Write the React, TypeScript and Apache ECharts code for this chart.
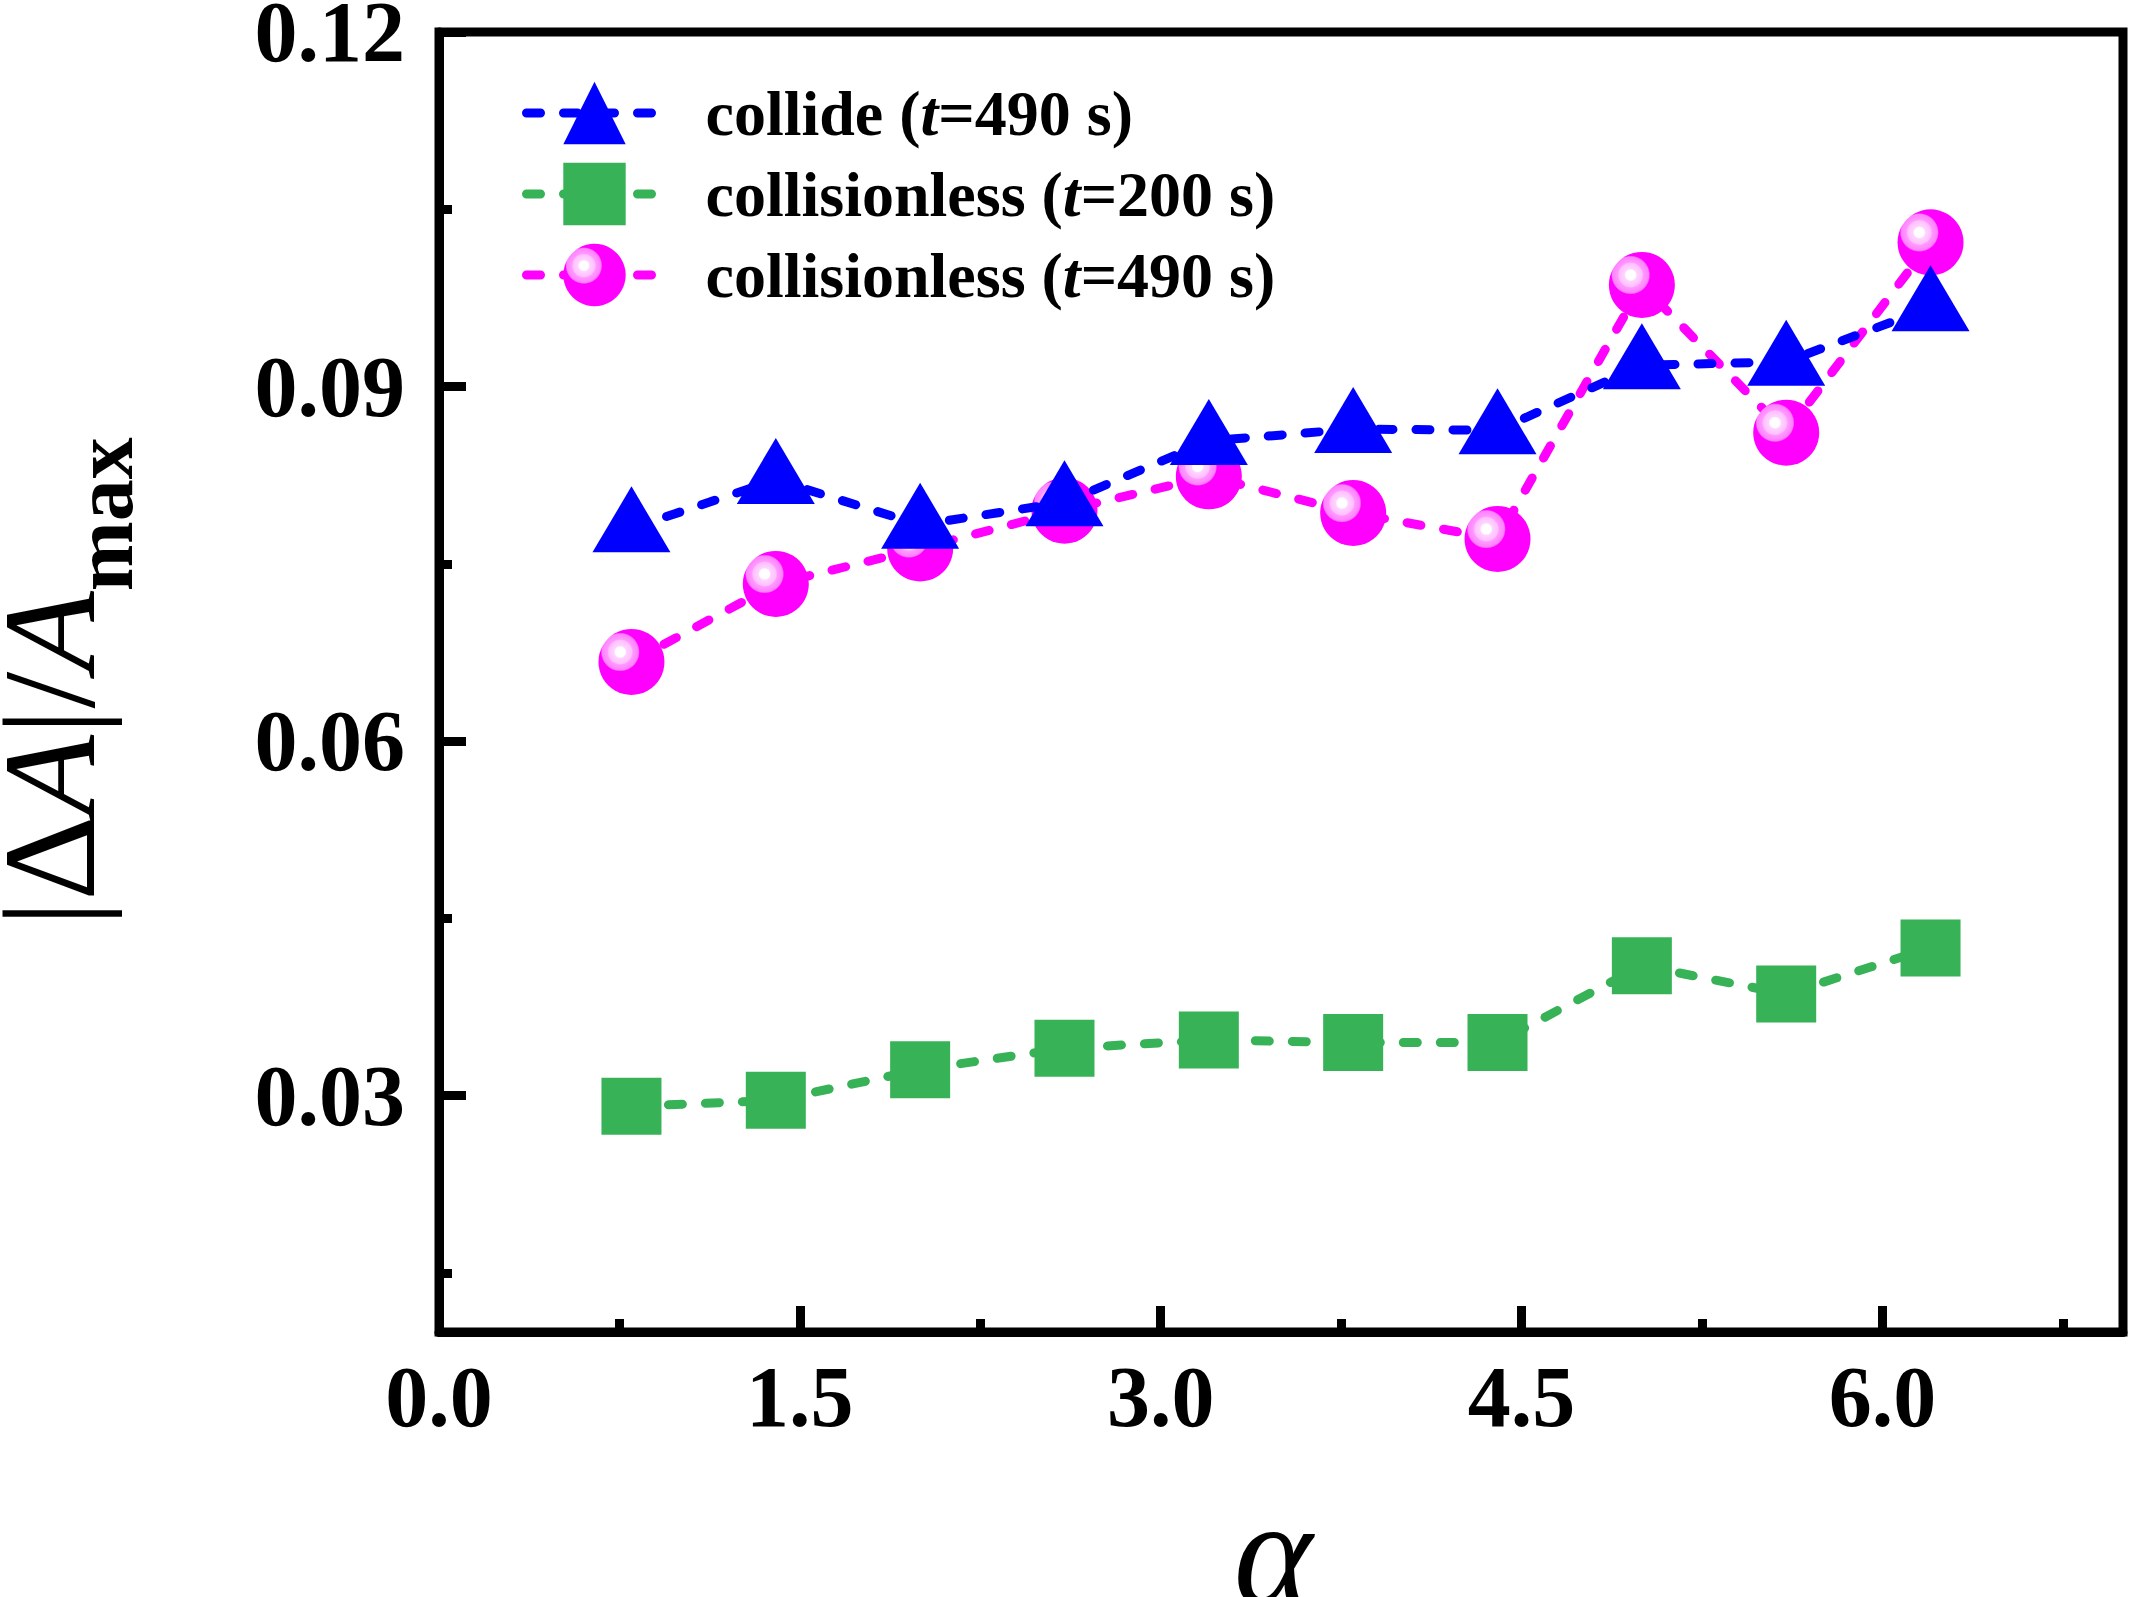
import React, { useEffect, useRef } from 'react'
import * as echarts from 'echarts'

const FONT = "'Liberation Serif', 'Times New Roman', serif"

// alpha values on the x axis
const alphaValues = [0.8, 1.4, 2.0, 2.6, 3.2, 3.8, 4.4, 5.0, 5.6, 6.2]
// |dA|/Amax for each case
const collide490 = [0.078, 0.0821, 0.0783, 0.0802, 0.0854, 0.0864, 0.0863, 0.0918, 0.0921, 0.0967]
const collisionless200 = [0.0291, 0.0296, 0.0322, 0.034, 0.0347, 0.0345, 0.0345, 0.041, 0.0386, 0.0425]
const collisionless490 = [0.0667, 0.0733, 0.0763, 0.0795, 0.0824, 0.0793, 0.0771, 0.0986, 0.0861, 0.1022]

const seriesNames = ['collide (t=490 s)', 'collisionless (t=200 s)', 'collisionless (t=490 s)']

const xMajorTicks = [0, 1.5, 3.0, 4.5, 6.0]
const xMinorTicks = [0.75, 2.25, 3.75, 5.25, 6.75]
const yMajorTicks = [0.03, 0.06, 0.09, 0.12]
const yMinorTicks = [0.015, 0.045, 0.075, 0.105]

const pairs = (ys: number[]) => alphaValues.map((x, i) => [x, ys[i]])

export default function App() {
  const chartRef = useRef<HTMLDivElement>(null)

  useEffect(() => {
    const chart = echarts.init(chartRef.current, null, { renderer: 'svg' })

    // shiny ball look of the magenta markers
    const ball = new echarts.graphic.RadialGradient(0.33, 0.35, 0.5, [
      { offset: 0, color: '#ffffff' },
      { offset: 0.15, color: '#ffffff' },
      { offset: 0.19, color: '#ffd4ff' },
      { offset: 0.35, color: '#ffc0ff' },
      { offset: 0.39, color: '#ff99ff' },
      { offset: 0.55, color: '#ff80ff' },
      { offset: 0.59, color: '#ff00ff' },
      { offset: 1, color: '#ff00ff' },
    ])

    const dashed = (color: string) => ({ color, width: 9, type: [14, 23], cap: 'round' })
    const tickLabel = { fontFamily: FONT, fontSize: 86, fontWeight: 'bold', color: '#000' }

    chart.setOption({
      animation: false,
      backgroundColor: '#fff',
      grid: {
        left: 439, right: 7, top: 32, bottom: 265,
        outerBoundsMode: 'none',
        show: true, borderColor: '#000', borderWidth: 9,
      },
      legend: {
        data: seriesNames,
        orient: 'vertical',
        left: 517, top: 76,
        itemWidth: 136, itemHeight: 78, itemGap: 17,
        lineStyle: { width: 9, type: [14, 23], cap: 'round' },
        formatter: (name: string) => name.replace(/^(.*\()t(=.*)$/, '{b|$1}{it|t}{b|$2}'),
        textStyle: {
          padding: [0, 0, 0, 38],
          rich: {
            b: { fontFamily: FONT, fontSize: 64, fontWeight: 'bold', color: '#000', lineHeight: 60 },
            it: { fontFamily: FONT, fontSize: 64, fontWeight: 'bold', fontStyle: 'italic', color: '#000', lineHeight: 60 },
          },
        },
      },
      xAxis: [
        {
          type: 'value', min: 0, max: 7,
          name: 'α', nameLocation: 'middle', nameGap: 146,
          nameTextStyle: {
            fontFamily: FONT, fontSize: 150, fontStyle: 'italic', color: '#000', lineHeight: 150,
            padding: [0, 16, 0, 0],
          },
          axisLine: { lineStyle: { color: '#000', width: 9 } },
          axisTick: { inside: true, length: 26, customValues: xMajorTicks, lineStyle: { color: '#000', width: 9 } },
          axisLabel: { ...tickLabel, margin: 22, customValues: xMajorTicks, formatter: (v: number) => v.toFixed(1) },
          splitLine: { show: false },
        },
        {
          type: 'value', min: 0, max: 7, position: 'bottom',
          axisLine: { show: false },
          axisTick: { inside: true, length: 13, customValues: xMinorTicks, lineStyle: { color: '#000', width: 9 } },
          axisLabel: { show: false },
          splitLine: { show: false },
        },
      ],
      yAxis: [
        {
          type: 'value', min: 0.01, max: 0.12,
          name: '{r||Δ}{i|A}{r||/}{i|A}{s|max}',
          nameLocation: 'middle', nameRotate: 90, nameGap: 324,
          nameTextStyle: {
            rich: {
              r: { fontFamily: FONT, fontSize: 132, color: '#000', lineHeight: 132, verticalAlign: 'top' },
              i: { fontFamily: FONT, fontSize: 132, fontStyle: 'italic', color: '#000', lineHeight: 132, verticalAlign: 'top' },
              s: { fontFamily: FONT, fontSize: 84, fontWeight: 'bold', color: '#000', lineHeight: 84, verticalAlign: 'top', padding: [78, 0, 0, 0] },
            },
          },
          axisLine: { lineStyle: { color: '#000', width: 9 } },
          axisTick: { inside: true, length: 27, customValues: yMajorTicks, lineStyle: { color: '#000', width: 9 } },
          axisLabel: { ...tickLabel, margin: 34, customValues: yMajorTicks, formatter: (v: number) => v.toFixed(2) },
          splitLine: { show: false },
        },
        {
          type: 'value', min: 0.01, max: 0.12, position: 'left',
          axisLine: { show: false },
          axisTick: { inside: true, length: 13, customValues: yMinorTicks, lineStyle: { color: '#000', width: 9 } },
          axisLabel: { show: false },
          splitLine: { show: false },
        },
      ],
      series: [
        {
          name: seriesNames[1], type: 'line', data: pairs(collisionless200),
          symbol: 'rect', symbolSize: [60, 57],
          itemStyle: { color: '#37b257' }, lineStyle: dashed('#37b257'), z: 2,
        },
        {
          name: seriesNames[2], type: 'line', data: pairs(collisionless490),
          symbol: 'circle', symbolSize: 66,
          itemStyle: { color: ball }, lineStyle: dashed('#ff00ff'), z: 3,
        },
        {
          name: seriesNames[0], type: 'line', data: pairs(collide490),
          symbol: 'triangle', symbolSize: [78, 66], symbolOffset: [0, -9],
          itemStyle: { color: '#0000ff' }, lineStyle: dashed('#0000ff'), z: 4,
        },
      ],
    })

    return () => chart.dispose()
  }, [])

  return (
    <div
      ref={chartRef}
      style={{ position: 'absolute', left: 0, top: 0, width: 2130, height: 1597, background: '#fff' }}
    />
  )
}
